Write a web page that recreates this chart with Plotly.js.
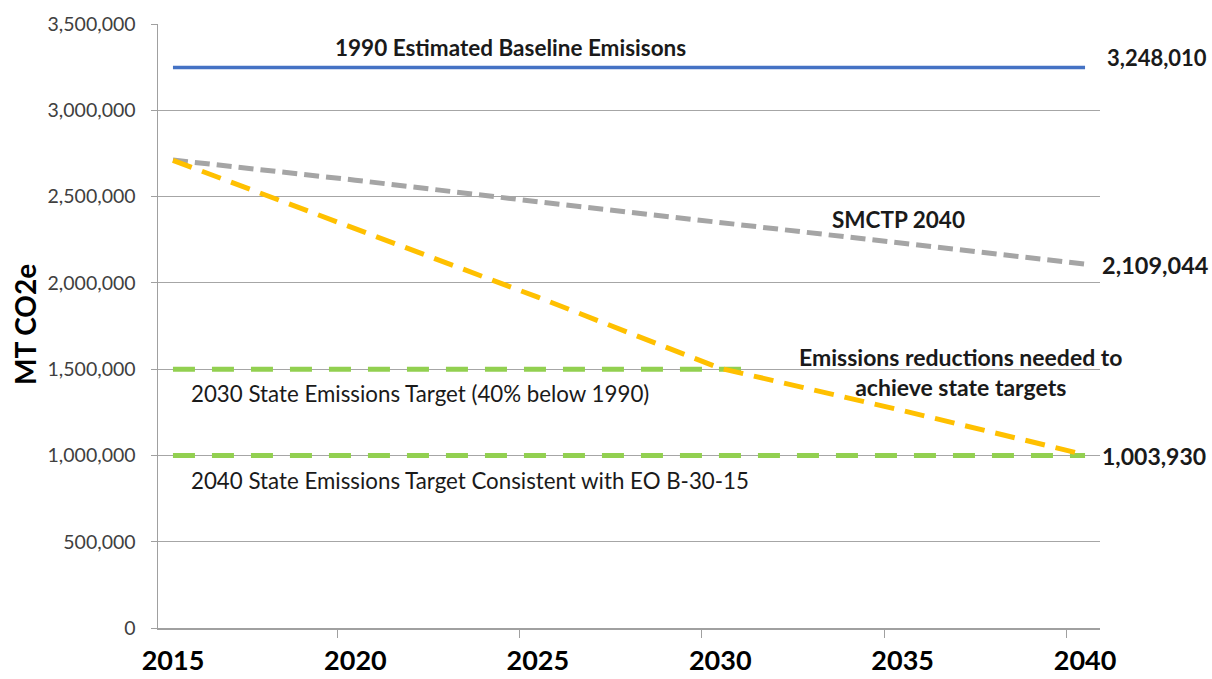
<!DOCTYPE html>
<html>
<head>
<meta charset="utf-8">
<script src="https://cdn.plot.ly/plotly-3.0.1.min.js"></script>
<style>html,body{margin:0;padding:0;background:#fff;}#chart{width:1212px;height:679px;}</style>
</head>
<body>
<div id="chart"></div>
<script>
// Data
const baselineYears = [2015, 2040];
const baselineValues = [3248010, 3248010];

const smctpYears = [2015, 2020, 2025, 2030, 2035, 2040];
const smctpValues = [2712000, 2595000, 2470000, 2350000, 2230000, 2109044];

const reductionYears = [2015, 2020, 2025, 2030, 2035, 2040];
const reductionValues = [2710000, 2317000, 1917000, 1505000, 1260000, 1003930];

const target2030Years = [2015, 2031];
const target2030Values = [1500000, 1500000];

const target2040Years = [2015, 2040];
const target2040Values = [1000000, 1000000];

const xTickVals = [2015, 2020, 2025, 2030, 2035, 2040];
const xTickText = ["2015", "2020", "2025", "2030", "2035", "2040"];
const xMinorTicks = [2019.5, 2024.5, 2029.5, 2034.5, 2039.5];
const yTickVals = [0, 500000, 1000000, 1500000, 2000000, 2500000, 3000000, 3500000];
const yTickText = ["0", "500,000", "1,000,000", "1,500,000", "2,000,000", "2,500,000", "3,000,000", "3,500,000"];

const FONT = "Lato, 'Open Sans', sans-serif";

const traces = [
  {x: target2030Years, y: target2030Values, mode: 'lines', line: {color: '#92D050', width: 5, dash: '22px,17px'}, hoverinfo: 'skip'},
  {x: target2040Years, y: target2040Values, mode: 'lines', line: {color: '#92D050', width: 5, dash: '22px,17px'}, hoverinfo: 'skip'},
  {x: baselineYears, y: baselineValues, mode: 'lines', line: {color: '#4472C4', width: 3.5}},
  {x: smctpYears, y: smctpValues, mode: 'lines', line: {color: '#A5A5A5', width: 5, dash: '15px,7px'}},
  {x: reductionYears, y: reductionValues, mode: 'lines', line: {color: '#FFC000', width: 5, dash: '20px,11px'}}
];

const ann = (x, y, text, size, bold, opts) => Object.assign({
  x: x, y: y, xref: 'x', yref: 'y', text: bold ? '<b>' + text + '</b>' : text,
  showarrow: false, font: {family: FONT, size: size, color: '#1a1a1a'}
}, opts || {});

const layout = {
  width: 1212, height: 679,
  margin: {l: 158, r: 112, t: 24, b: 51},
  paper_bgcolor: '#ffffff', plot_bgcolor: '#ffffff',
  showlegend: false,
  font: {family: FONT},
  xaxis: {
    type: 'linear', range: [2014.59, 2040.41],
    tickmode: 'array', tickvals: xTickVals, ticktext: xTickText,
    ticks: '', showgrid: false, zeroline: false,
    showline: true, linecolor: '#a0a0a0', linewidth: 2,
    tickfont: {family: FONT, size: 27, color: '#000000', weight: 'bold'},
    ticklabelstandoff: 8,
    minor: {tickmode: 'array', tickvals: xMinorTicks, ticks: 'outside', ticklen: 8, tickcolor: '#a0a0a0', tickwidth: 1, showgrid: false}
  },
  yaxis: {
    range: [0, 3500000],
    tickmode: 'array', tickvals: yTickVals, ticktext: yTickText,
    ticks: 'outside', ticklen: 6, tickcolor: '#a0a0a0',
    showgrid: true, gridcolor: '#a6a6a6', gridwidth: 1,
    zeroline: false, showline: true, linecolor: '#a0a0a0', linewidth: 1.5,
    tickfont: {family: FONT, size: 19.5, color: '#404040'},
    ticklabelstandoff: 11
  },
  annotations: [
    ann(2024.25, 3361000, '1990 Estimated Baseline Emisisons', 22.5, true),
    ann(2040, 3248010, '3,248,010', 22, true, {xanchor: 'left', xshift: 20, yshift: 10}),
    ann(2034.9, 2370000, 'SMCTP 2040', 22.5, true),
    ann(2040, 2109044, '2,109,044', 23.5, true, {xanchor: 'left', xshift: 15, yshift: -1}),
    ann(2036.6, 1483000, 'Emissions reductions needed to<br>achieve state targets', 23, true, {align: 'center'}),
    ann(2040, 1003930, '1,003,930', 23, true, {xanchor: 'left', xshift: 15, yshift: -1}),
    ann(2015, 1360000, '2030 State Emissions Target (40% below 1990)', 22.3, false, {xanchor: 'left', xshift: 16}),
    ann(2015, 855000, '2040 State Emissions Target Consistent with EO B-30-15', 22.3, false, {xanchor: 'left', xshift: 16}),
    {x: (25 - 158) / 942, y: (628 - 325) / 604, xref: 'paper', yref: 'paper', xanchor: 'center', yanchor: 'middle',
     text: '<b>MT CO2e</b>', textangle: -90,
     showarrow: false, font: {family: FONT, size: 28, color: '#000000'}}
  ]
};

Plotly.newPlot('chart', traces, layout, {displayModeBar: false, staticPlot: true});
</script>
</body>
</html>
